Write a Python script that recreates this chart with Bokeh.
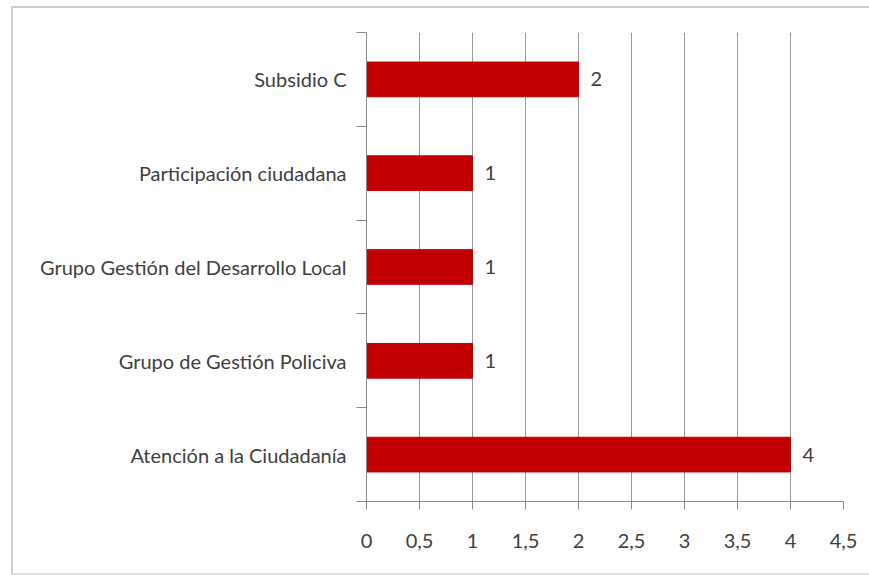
from bokeh.plotting import figure
from bokeh.models import ColumnDataSource, FixedTicker, Range1d
from bokeh.core.properties import value
from bokeh.embed import file_html
from bokeh.resources import INLINE

categories = ["Atención a la Ciudadanía", "Grupo de Gestión Policiva",
              "Grupo Gestión del Desarrollo Local", "Participación ciudadana", "Subsidio C"]
values = [4, 1, 1, 1, 2]
x_ticks = [0, 0.5, 1, 1.5, 2, 2.5, 3, 3.5, 4, 4.5]
x_tick_labels = ["0", "0,5", "1", "1,5", "2", "2,5", "3", "3,5", "4", "4,5"]

FONT = "Lato"
TEXT = "#404040"
FS = "20px"

pos = list(range(len(categories)))
src = ColumnDataSource(dict(y=pos, v=values, lbl=[str(v) for v in values]))

p = figure(width=858, height=569, output_backend="svg", toolbar_location=None,
           x_range=Range1d(0, 4.5), y_range=Range1d(-0.5, len(categories) - 0.5),
           min_border_left=353, min_border_right=28, min_border_top=24, min_border_bottom=76,
           outline_line_color=None, background_fill_color="white", border_fill_color="white")
p.styles = {"margin-left": "11px", "margin-top": "6px",
            "border-left": "2px solid #d0d0d0", "border-top": "2px solid #d0d0d0",
            "border-bottom": "2px solid #e0e0e0"}

p.hbar(y="y", right="v", left=0, height=0.37, source=src, fill_color="#C00000", line_color="#C00000")
p.text(x="v", y="y", text="lbl", source=src, x_offset=12, text_baseline="middle",
       text_font=value(FONT), text_font_size=FS, text_color=TEXT)

# x axis
xa = p.xaxis[0]
xa.ticker = FixedTicker(ticks=x_ticks)
xa.major_label_overrides = {t: l for t, l in zip(x_ticks, x_tick_labels)}
xa.major_tick_out = 8
xa.major_tick_in = 0
xa.minor_tick_out = 0
xa.minor_tick_in = 0
xa.axis_line_color = "#8c8c8c"
xa.major_tick_line_color = "#8c8c8c"
xa.major_label_text_font = FONT
xa.major_label_text_font_size = FS
xa.major_label_text_color = TEXT
xa.major_label_standoff = 24

# y axis
ya = p.yaxis[0]
ya.ticker = FixedTicker(ticks=pos, minor_ticks=[i - 0.5 for i in range(len(categories) + 1)])
ya.major_label_overrides = {i: c for i, c in enumerate(categories)}
ya.major_tick_out = 0
ya.major_tick_in = 0
ya.minor_tick_out = 10
ya.minor_tick_in = 0
ya.axis_line_color = "#8c8c8c"
ya.minor_tick_line_color = "#8c8c8c"
ya.major_label_text_font = FONT
ya.major_label_text_font_size = FS
ya.major_label_text_color = TEXT
ya.major_label_standoff = 10

p.xgrid.grid_line_color = "#9a9a9a"
p.xgrid.ticker = FixedTicker(ticks=x_ticks)
p.ygrid.grid_line_color = None

open("out.html", "w").write(file_html(p, INLINE))
